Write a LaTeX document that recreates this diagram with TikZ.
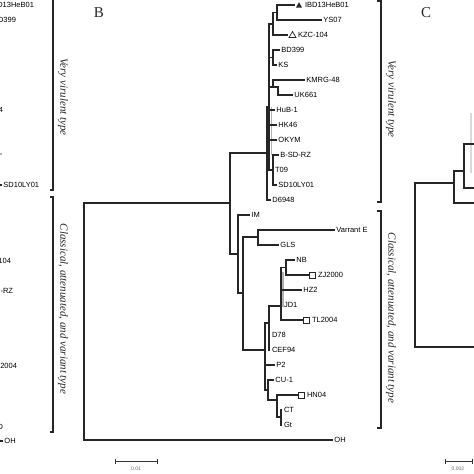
\documentclass[tikz,border=0pt]{standalone}
\usepackage{fontspec}
\setmainfont{Liberation Serif}
\setsansfont{Liberation Sans}
\usetikzlibrary{positioning}

\tikzset{
  branch/.style={line width=1.3pt, draw=black!85, line cap=rect},
  shade/.style={line width=1.8pt, draw=black!30},
  leaf/.style={font=\sffamily\fontsize{7.5}{9}\selectfont, inner sep=1.8pt, anchor=west, text=black},
  typelabel/.style={font=\itshape\fontsize{11}{13}\selectfont, rotate=-90, text=black!85},
  panel/.style={font=\fontsize{15}{17}\selectfont, text=black!85},
  bracket/.style={line width=1.2pt, draw=black!85},
  scalebar/.style={line width=1pt, draw=black!80},
  scaletext/.style={font=\sffamily\fontsize{5}{6}\selectfont, text=black!60},
}

\begin{document}
\begin{tikzpicture}[x=1pt, y=-1pt]

% one leaf: x start, y, x end, node name, label
\newcommand{\leafB}[5]{
  \draw[branch] (#1,#2) -- (#3,#2) node[leaf] (#4) {#5};
}
% marker boxes in front of some labels
\newcommand{\markBox}[2]{
  % #1 = x, #2 = y
  \draw[line width=0.7pt, black!85] ({#1},{#2-3}) rectangle ({#1+6},{#2+3});
}

\useasboundingbox (0,0) rectangle (474,474);
\clip (0,0) rectangle (474,474);

% ---------------- panel A (cut at left border) ----------------
\node[leaf, anchor=east] (aIBD) at (36,5) {IBD13HeB01};
\node[leaf, anchor=east] (aBD) at (18,20) {BD399};
\node[leaf, anchor=east] (aCEF) at (5,110) {CEF94};
\draw[shade] (-3,154) -- (2,154);
\draw[branch] (-6,185) -- (1,185) node[leaf] (aSD) {SD10LY01};
\node[leaf, anchor=east] (aKZC) at (13,261) {KZC-104};
\node[leaf, anchor=east] (aBSD) at (15,291) {B-SD-RZ};
\node[leaf, anchor=east] (aTL) at (19,366) {TL2004};
\node[leaf, anchor=east] (aD) at (5,427) {D};
\draw[branch] (-6,441) -- (2,441) node[leaf] (aOH) {OH};

% brackets of panel A
\draw[bracket] (50,-1) -- (53,-1) -- (53,190) -- (50,190);
\draw[bracket] (50,197) -- (53,197) -- (53,432) -- (50,432);
\node[typelabel] (aVV) at (63,97) {Very virulent type};
\node[typelabel] (aCl) at (63,309) {Classical, attenuated, and variant type};

% ---------------- panel B ----------------
\node[panel] (pB) at (99,13) {B};

% root and first split
\draw[branch] (84,203) -- (84,440);
\draw[branch] (84,203) -- (230,203);
\draw[branch] (230,153) -- (230,254);
\draw[branch] (230,153) -- (267,153);

% very virulent clade
\draw[branch] (267,107) -- (267,200);
\draw[branch] (269,24) -- (269,170);
\draw[shade] (271.5,107) -- (271.5,155);
\draw[branch] (277,5) -- (277,20);
\draw[branch] (273,12.5) -- (273,35);
\draw[branch] (273,12.5) -- (277,12.5);
\draw[branch] (269,24) -- (273,24);
\leafB{277}{5}{294}{IBD}{}
\fill[black!85] (296,7.5) -- (302,7.5) -- (299,2.2) -- cycle;
\node[leaf] (bIBD) at (303,5) {IBD13HeB01};
\leafB{277}{20}{321}{bYS}{YS07}
\leafB{273}{35}{287}{KZC}{}
\draw[line width=0.7pt, black!85] (289,37.5) -- (296,37.5) -- (292.5,31.5) -- cycle;
\node[leaf] (bKZC) at (296,35) {KZC-104};
\draw[branch] (273,50) -- (273,65);
\draw[branch] (269,57.5) -- (273,57.5);
\leafB{273}{50}{279}{bBD}{BD399}
\leafB{273}{65}{276}{bKS}{KS}
\draw[branch] (273,80) -- (273,87);
\draw[branch] (269,87) -- (278,87) -- (278,95);
\leafB{273}{80}{304}{bKM}{KMRG-48}
\leafB{278}{95}{292}{bUK}{UK661}
\leafB{269}{110}{274}{bHuB}{HuB-1}
\leafB{269}{125}{276}{bHK}{HK46}
\leafB{269}{140}{276}{bOK}{OKYM}
\draw[branch] (273,155) -- (273,185);
\draw[branch] (269,170) -- (273,170);
\leafB{273}{155}{278}{bBSD}{B-SD-RZ}
\node[leaf] (bT09) at (273,170) {T09};
\leafB{273}{185}{276}{bSD}{SD10LY01}
\leafB{267}{200}{270}{bD69}{D6948}

% classical, attenuated and variant clade
\draw[branch] (230,254) -- (238,254);
\draw[branch] (238,215) -- (238,293);
\leafB{238}{215}{249}{bIM}{IM}
\draw[branch] (238,293) -- (243,293);
\draw[branch] (243,237) -- (243,350);
\draw[branch] (243,237) -- (258,237);
\draw[branch] (258,230) -- (258,245);
\leafB{258}{230}{334}{bVE}{Varrant E}
\leafB{258}{245}{278}{bGLS}{GLS}
\draw[branch] (243,350) -- (265,350);
\draw[branch] (265,323) -- (265,390);
\draw[branch] (265,323) -- (269,323);
\draw[branch] (269,306) -- (269,350);
\draw[branch] (269,306) -- (281,306);
\draw[branch] (281,267.5) -- (281,320);
\draw[shade] (283,272) -- (283,307);
\draw[branch] (286,260) -- (286,275);
\draw[branch] (281,267.5) -- (286,267.5);
\leafB{286}{260}{294}{bNB}{NB}
\draw[branch] (286,275) -- (308,275);
\markBox{309}{275}
\node[leaf] (bZJ) at (316,275) {ZJ2000};
\leafB{281}{290}{301}{bHZ}{HZ2}
\node[leaf] (bJD) at (282,305) {JD1};
\draw[branch] (281,320) -- (302,320);
\markBox{303}{320}
\node[leaf] (bTL) at (310,320) {TL2004};
\node[leaf] (bD78) at (270,335) {D78};
\node[leaf] (bCEF) at (270,350) {CEF94};
\leafB{265}{365}{274}{bP2}{P2}
\draw[branch] (265,390) -- (268,390);
\draw[branch] (268,380) -- (268,400);
\leafB{268}{380}{273}{bCU}{CU-1}
\draw[branch] (268,400) -- (277,400);
\draw[branch] (277,395) -- (277,417);
\draw[branch] (277,395) -- (297,395);
\markBox{298}{395}
\node[leaf] (bHN) at (305,395) {HN04};
\draw[branch] (277,417) -- (281,417);
\draw[branch] (281,410) -- (281,425);
\node[leaf] (bCT) at (282,410) {CT};
\node[leaf] (bGt) at (282,425) {Gt};

% outgroup
\leafB{84}{440}{332}{bOH}{OH}

% brackets of panel B
\draw[bracket] (377,1) -- (381,1) -- (381,202) -- (377,202);
\draw[bracket] (377,211) -- (381,211) -- (381,428) -- (377,428);
\node[typelabel] (bVV) at (391,99) {Very virulent type};
\node[typelabel] (bCl) at (391,318) {Classical, attenuated, and variant type};

% scale bar
\draw[scalebar] (115,461) -- (157,461);
\draw[scalebar] (115,458.5) -- (115,463.5);
\draw[scalebar] (157,458.5) -- (157,463.5);
\node[scaletext] (bScale) at (136,469) {0.01};

% ---------------- panel C (cut at right border) ----------------
\node[panel] (pC) at (426,13) {C};
\draw[line width=2.5pt, black!15] (471,113) -- (471,173);
\draw[branch] (415,183) -- (415,347);
\draw[branch] (415,183) -- (454,183);
\draw[branch] (415,347) -- (480,347);
\draw[branch] (454,171) -- (454,203);
\draw[branch] (454,171) -- (464,171);
\draw[branch] (454,203) -- (480,203);
\draw[branch] (464,144) -- (464,188);
\draw[branch] (464,144) -- (480,144);
\draw[branch] (464,188) -- (480,188);

% scale bar
\draw[scalebar] (445,461) -- (472,461);
\draw[scalebar] (445,458.5) -- (445,463.5);
\draw[scalebar] (472,458.5) -- (472,463.5);
\node[scaletext] (cScale) at (458,469) {0.002};

\end{tikzpicture}
\end{document}
